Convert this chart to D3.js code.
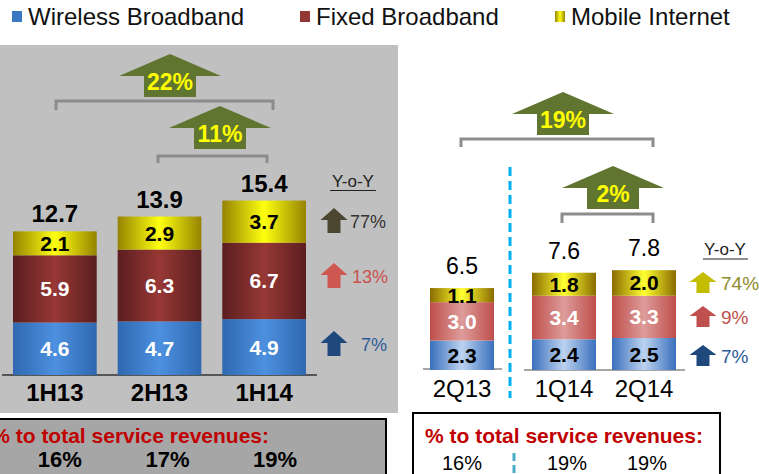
<!DOCTYPE html>
<html>
<head>
<meta charset="utf-8">
<script src="https://cdn.jsdelivr.net/npm/d3@7"></script>
<style>
  body { margin: 0; background: #fff; }
  svg { display: block; }
  text { font-family: "Liberation Sans", Arial, sans-serif; }
</style>
</head>
<body>
<svg id="chart" width="759" height="474"></svg>
<script>
// Data
var SERIES = ["Wireless Broadband", "Fixed Broadband", "Mobile Internet"];

var halfCats = ["1H13", "2H13", "1H14"];
var halfWireless = [4.6, 4.7, 4.9];
var halfFixed = [5.9, 6.3, 6.7];
var halfMobile = [2.1, 2.9, 3.7];
var halfTotals = [12.7, 13.9, 15.4];
var halfShare = ["16%", "17%", "19%"];
var halfYoy = ["7%", "13%", "77%"];   // wireless, fixed, mobile
var halfGrowth = [{from: "1H13", to: "1H14", label: "22%"}, {from: "2H13", to: "1H14", label: "11%"}];

var qCats = ["2Q13", "1Q14", "2Q14"];
var qWireless = [2.3, 2.4, 2.5];
var qFixed = [3.0, 3.4, 3.3];
var qMobile = [1.1, 1.8, 2.0];
var qTotals = [6.5, 7.6, 7.8];
var qShare = ["16%", "19%", "19%"];
var qYoy = ["7%", "9%", "74%"];
var qGrowth = [{from: "2Q13", to: "2Q14", label: "19%"}, {from: "1Q14", to: "2Q14", label: "2%"}];

var ARROW_GREEN = "#5f7530";

var svg = d3.select("#chart");
var defs = svg.append("defs");

// horizontal "cylinder" gradients
function addGradient(id, edge, center) {
  var g = defs.append("linearGradient").attr("id", id)
    .attr("x1", "0%").attr("x2", "100%").attr("y1", "0%").attr("y2", "0%");
  g.append("stop").attr("offset", "0%").attr("stop-color", edge);
  g.append("stop").attr("offset", "50%").attr("stop-color", center);
  g.append("stop").attr("offset", "100%").attr("stop-color", edge);
}
addGradient("hBlue", "#2f68b0", "#4d90e0");
addGradient("hRed", "#5a1e1e", "#973836");
addGradient("hYellow", "#958300", "#ffff10");
addGradient("qBlue", "#3a70bd", "#bcd3f0");
addGradient("qRed", "#bf4e4b", "#dd9c9a");
addGradient("qYellow", "#8a6c00", "#ffff30");

/*** Legend ***/
var legendColors = ["#3b78c4", "#943634", "#e6d200"];
var legendX = [12, 300, 555];
SERIES.forEach(function(s, i) {
  svg.append("rect")
    .attr("x", legendX[i]).attr("y", 11)
    .attr("width", 10).attr("height", 11)
    .attr("fill", i == 2 ? "url(#hYellow)" : legendColors[i]);
  svg.append("text")
    .attr("x", legendX[i] + 16).attr("y", 25)
    .style("font-size", "24px")
    .style("fill", "#111")
    .text(s);
});

/*** Block up arrow ***/
function upArrow(cx, top, w, h, headH, shaftW, color) {
  var pts = [
    [cx, top], [cx + w / 2, top + headH], [cx + shaftW / 2, top + headH],
    [cx + shaftW / 2, top + h], [cx - shaftW / 2, top + h],
    [cx - shaftW / 2, top + headH], [cx - w / 2, top + headH]
  ];
  svg.append("polygon")
    .attr("points", pts.map(function(p) { return p.join(","); }).join(" "))
    .attr("fill", color);
}

function bracket(x1, x2, y, drop) {
  svg.append("path")
    .attr("d", "M" + x1 + "," + (y + drop) + "V" + y + "H" + x2 + "V" + (y + drop))
    .attr("fill", "none")
    .attr("stroke", "#8c8c8c")
    .attr("stroke-width", 3);
}

function growthArrow(cx, top, label) {
  upArrow(cx, top, 102, 43, 22, 52, ARROW_GREEN);
  svg.append("text")
    .attr("x", cx).attr("y", top + 36)
    .attr("text-anchor", "middle")
    .style("font-size", "23px").style("font-weight", "bold")
    .style("fill", "#ffff00")
    .text(label);
}

/*** Stacked bars ***/
function drawBars(cats, x, y, wireless, fixed, mobile, totals, grads, opts) {
  var rows = cats.map(function(c, i) {
    return {cat: c, wireless: wireless[i], fixed: fixed[i], mobile: mobile[i], total: totals[i]};
  });
  var stack = d3.stack().keys(["wireless", "fixed", "mobile"])(rows);
  stack.forEach(function(layer, li) {
    svg.selectAll(null).data(layer).enter().append("rect")
      .attr("x", function(d) { return x(d.data.cat); })
      .attr("y", function(d) { return y(d[1]); })
      .attr("width", x.bandwidth())
      .attr("height", function(d) { return y(d[0]) - y(d[1]); })
      .attr("fill", "url(#" + grads[li] + ")");
    svg.selectAll(null).data(layer).enter().append("text")
      .attr("x", function(d) { return x(d.data.cat) + x.bandwidth() / 2; })
      .attr("y", function(d) { return (y(d[0]) + y(d[1])) / 2 + 7.5; })
      .attr("text-anchor", "middle")
      .style("font-size", "21px").style("font-weight", "bold")
      .style("fill", opts.labelColors[li])
      .text(function(d) { return d.data[layer.key].toFixed(1); });
  });
  svg.selectAll(null).data(rows).enter().append("text")
    .attr("x", function(d) { return x(d.cat) + x.bandwidth() / 2; })
    .attr("y", function(d) { return y(d.wireless + d.fixed + d.mobile) - opts.totalGap; })
    .attr("text-anchor", "middle")
    .style("font-size", opts.totalSize).style("font-weight", opts.weight)
    .style("fill", "#000")
    .text(function(d) { return d.total.toFixed(1); });
  svg.selectAll(null).data(rows).enter().append("text")
    .attr("x", function(d) { return x(d.cat) + x.bandwidth() / 2; })
    .attr("y", y(0) + opts.catGap)
    .attr("text-anchor", "middle")
    .style("font-size", "24px").style("font-weight", opts.weight)
    .style("fill", "#000")
    .text(function(d) { return d.cat; });
}

function center(x, c) { return x(c) + x.bandwidth() / 2; }

/*** Left panel: half years ***/
svg.append("rect")
  .attr("x", 0).attr("y", 45).attr("width", 398).attr("height", 368)
  .attr("fill", "#c0c0c0");

var xHalf = d3.scaleBand().domain(halfCats).range([13, 306]).paddingInner(0.2).paddingOuter(0);
var yHalf = d3.scaleLinear().domain([0, 16]).range([375, 375 - 16 * 11.4]);

svg.append("line")
  .attr("x1", 2).attr("x2", 317).attr("y1", yHalf(0)).attr("y2", yHalf(0))
  .attr("stroke", "#333").attr("stroke-width", 1.5);

drawBars(halfCats, xHalf, yHalf, halfWireless, halfFixed, halfMobile, halfTotals,
  ["hBlue", "hRed", "hYellow"],
  {labelColors: ["#ffffff", "#ffffff", "#000000"], totalGap: 9, totalSize: "24px", weight: "bold", catGap: 26});

// growth brackets
bracket(56, 273, 101, 9);
growthArrow(170, 54, halfGrowth[0].label);
bracket(158, 267, 156, 7);
growthArrow(220, 106, halfGrowth[1].label);

// Y-o-Y column
svg.append("text")
  .attr("x", 353).attr("y", 187).attr("text-anchor", "middle")
  .style("font-size", "17px").style("fill", "#222")
  .text("Y-o-Y");
svg.append("line")
  .attr("x1", 330).attr("x2", 376).attr("y1", 190.5).attr("y2", 190.5)
  .attr("stroke", "#222").attr("stroke-width", 1.2);

var halfYoyStyle = [
  {top: 331, arrow: "#1f497d", text: "#2e5c99", tx: 361},
  {top: 263, arrow: "#cf5752", text: "#c8524e", tx: 352},
  {top: 208, arrow: "#4a4630", text: "#333333", tx: 350}
];
halfYoy.forEach(function(v, i) {
  var s = halfYoyStyle[i];
  upArrow(334, s.top, 27, 25, 12, 13, s.arrow);
  svg.append("text")
    .attr("x", s.tx).attr("y", s.top + 20)
    .style("font-size", "18px").style("fill", s.text)
    .text(v);
});

// share box
svg.append("rect")
  .attr("x", -5).attr("y", 419).attr("width", 391).attr("height", 70)
  .attr("fill", "#a6a6a6").attr("stroke", "#000").attr("stroke-width", 2);
svg.append("text")
  .attr("x", 269).attr("y", 443).attr("text-anchor", "end")
  .style("font-size", "21px").style("font-weight", "bold").style("fill", "#c00000")
  .text("% to total service revenues:");
svg.selectAll(null).data(halfShare).enter().append("text")
  .attr("x", function(d, i) { return center(xHalf, halfCats[i]) + 5 + i * 3; })
  .attr("y", 467)
  .attr("text-anchor", "middle")
  .style("font-size", "22px").style("font-weight", "bold").style("fill", "#000")
  .text(function(d) { return d; });

/*** Right panel: quarters ***/
var xQ1 = d3.scaleBand().domain(qCats.slice(0, 1)).range([430, 494]).paddingInner(0).paddingOuter(0);
var xQ2 = d3.scaleBand().domain(qCats.slice(1)).range([532, 676]).paddingInner(0.2).paddingOuter(0);
var yQ = d3.scaleLinear().domain([0, 8]).range([370, 370 - 8 * 12.8]);

svg.append("line")
  .attr("x1", 423).attr("x2", 502).attr("y1", yQ(0) - 1).attr("y2", yQ(0) - 1)
  .attr("stroke", "#a6a6a6").attr("stroke-width", 2);
svg.append("line")
  .attr("x1", 524).attr("x2", 685).attr("y1", yQ(0)).attr("y2", yQ(0))
  .attr("stroke", "#a6a6a6").attr("stroke-width", 2);

var qOpts = {labelColors: ["#000000", "#ffffff", "#000000"], totalGap: 14, totalSize: "23px", weight: "normal", catGap: 27};
drawBars(qCats.slice(0, 1), xQ1, yQ, qWireless.slice(0, 1), qFixed.slice(0, 1), qMobile.slice(0, 1), qTotals.slice(0, 1),
  ["qBlue", "qRed", "qYellow"], qOpts);
drawBars(qCats.slice(1), xQ2, yQ, qWireless.slice(1), qFixed.slice(1), qMobile.slice(1), qTotals.slice(1),
  ["qBlue", "qRed", "qYellow"], qOpts);

// dashed divider
svg.append("line")
  .attr("x1", 510).attr("x2", 510).attr("y1", 167).attr("y2", 398)
  .attr("stroke", "#00b0f0").attr("stroke-width", 3).attr("stroke-dasharray", "9,5");

bracket(461, 653, 139, 8);
growthArrow(563, 92, qGrowth[0].label);
bracket(562, 653, 214, 9);
growthArrow(613, 166, qGrowth[1].label);

svg.append("text")
  .attr("x", 725).attr("y", 255).attr("text-anchor", "middle")
  .style("font-size", "17px").style("fill", "#222")
  .text("Y-o-Y");
svg.append("line")
  .attr("x1", 703).attr("x2", 748).attr("y1", 259).attr("y2", 259)
  .attr("stroke", "#222").attr("stroke-width", 1.2);

var qYoyStyle = [
  {top: 345, arrow: "#1f497d", text: "#2e5c99"},
  {top: 306, arrow: "#c0504d", text: "#c0504d"},
  {top: 272, arrow: "#c3bc00", text: "#8f8a2c"}
];
qYoy.forEach(function(v, i) {
  var s = qYoyStyle[i];
  upArrow(703, s.top, 27, 21, 10, 13, s.arrow);
  svg.append("text")
    .attr("x", 721).attr("y", s.top + 18)
    .style("font-size", "19px").style("fill", s.text)
    .text(v);
});

// share box
svg.append("rect")
  .attr("x", 413).attr("y", 413).attr("width", 307).attr("height", 80)
  .attr("fill", "#fff").attr("stroke", "#000").attr("stroke-width", 2);
svg.append("text")
  .attr("x", 564).attr("y", 443).attr("text-anchor", "middle")
  .style("font-size", "21px").style("font-weight", "bold").style("fill", "#c00000")
  .text("% to total service revenues:");
var qCenters = [center(xQ1, qCats[0]), center(xQ2, qCats[1]), center(xQ2, qCats[2])];
svg.selectAll(null).data(qShare).enter().append("text")
  .attr("x", function(d, i) { return qCenters[i] + (i > 0 ? 3 : 0); })
  .attr("y", 470)
  .attr("text-anchor", "middle")
  .style("font-size", "20px").style("fill", "#000")
  .text(function(d) { return d; });
svg.append("line")
  .attr("x1", 514).attr("x2", 514).attr("y1", 453).attr("y2", 474)
  .attr("stroke", "#4bacc6").attr("stroke-width", 3).attr("stroke-dasharray", "8,4");
</script>
</body>
</html>
